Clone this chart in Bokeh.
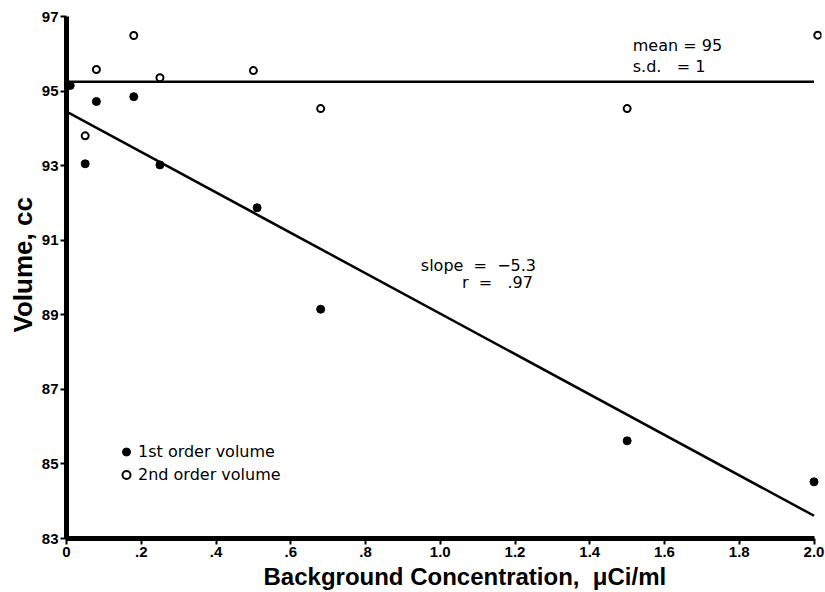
from bokeh.plotting import figure
from bokeh.models import (Range1d, FixedTicker, Label, Legend, LegendItem, Title)
from bokeh.embed import file_html
from bokeh.resources import INLINE

# ---- data ----
first_x = [0.01, 0.05, 0.08, 0.18, 0.25, 0.51, 0.68, 1.50, 2.00]
first_y = [95.15, 93.05, 94.72, 94.85, 93.02, 91.87, 89.15, 85.62, 84.52]

second_x = [0.05, 0.08, 0.18, 0.25, 0.50, 0.68, 1.50, 2.01]
second_y = [93.80, 95.58, 96.49, 95.36, 95.55, 94.53, 94.53, 96.50]

fit_x = [0.0, 2.0]
mean_level = 95.25
line_intercept = 94.45
line_slope = -5.42

x_ticks = [0, 0.2, 0.4, 0.6, 0.8, 1.0, 1.2, 1.4, 1.6, 1.8, 2.0]
x_tick_labels = ["0", ".2", ".4", ".6", ".8", "1.0", "1.2", "1.4", "1.6", "1.8", "2.0"]
y_ticks = [83, 85, 87, 89, 91, 93, 95, 97]
y_tick_labels = ["83", "85", "87", "89", "91", "93", "95", "97"]

FONT = "Liberation Sans"
TFONT = "DejaVu Sans"
NB = "\u00a0"

p = figure(width=825, height=592, x_range=Range1d(0, 2.02), y_range=Range1d(83, 97),
           output_backend="svg", toolbar_location=None,
           min_border_left=66, min_border_right=4, min_border_top=16, min_border_bottom=54)
p.outline_line_color = None
p.xgrid.visible = False
p.ygrid.visible = False
p.background_fill_color = "white"
p.border_fill_color = "white"

for ax in (p.xaxis[0], p.yaxis[0]):
    ax.axis_line_width = 5
    ax.axis_line_color = "black"
    ax.major_tick_out = 6
    ax.major_tick_in = 0
    ax.major_tick_line_width = 2
    ax.minor_tick_line_color = None
    ax.major_label_text_font = FONT
    ax.major_label_text_font_style = "bold"
    ax.major_label_text_font_size = "15px"
    ax.major_label_text_color = "black"

p.xaxis[0].ticker = FixedTicker(ticks=x_ticks)
p.xaxis[0].major_label_overrides = {t: l for t, l in zip(x_ticks, x_tick_labels)}
p.xaxis[0].bounds = (0, 2.0)
p.xaxis[0].major_label_standoff = 2
p.yaxis[0].ticker = FixedTicker(ticks=y_ticks)
p.yaxis[0].major_label_overrides = {t: l for t, l in zip(y_ticks, y_tick_labels)}
p.yaxis[0].bounds = (83, 97)
p.yaxis[0].major_label_standoff = 2

# fit lines
p.line(fit_x, [mean_level, mean_level], line_color="black", line_width=2.5)
p.line(fit_x, [line_intercept + line_slope * x for x in fit_x], line_color="black", line_width=2.5)

r1 = p.scatter(first_x, first_y, marker="circle", size=8, fill_color="black", line_color="black")
r2 = p.scatter(second_x, second_y, marker="circle", size=7, fill_color="white",
               line_color="black", line_width=2)

legend = Legend(items=[LegendItem(label="1st order volume", renderers=[r1]),
                       LegendItem(label="2nd order volume", renderers=[r2])],
                location=(50, 52), orientation="vertical")
legend.border_line_color = None
legend.background_fill_alpha = 0
legend.padding = 0
legend.spacing = 0
legend.margin = 0
legend.glyph_width = 20
legend.glyph_height = 23
legend.label_height = 23
legend.label_standoff = 2
legend.label_text_font = TFONT
legend.label_text_font_size = "16px"
legend.label_text_color = "black"
p.add_layout(legend)

def lab(x, y, text, align="left"):
    p.add_layout(Label(x=x, y=y, text=text, text_font=TFONT, text_font_size="16px",
                       text_color="black", text_align=align, text_baseline="middle"))

lab(1.515, 96.22, "mean" + NB + "=" + NB + "95")
lab(1.515, 95.66, "s.d." + NB * 3 + "=" + NB + "1")
lab(0.948, 90.32, "slope" + NB * 2 + "=" + NB * 2 + "\u22125.3")
lab(1.248, 89.87, "r" + NB * 2 + "=" + NB * 3 + ".97", align="right")

xt = Title(text="Background Concentration," + NB * 2 + "\u03bcCi/ml", align="left", offset=197,
           standoff=2, text_font=FONT, text_font_size="24px", text_font_style="bold",
           text_color="black")
p.add_layout(xt, "below")
yt = Title(text="Volume, cc", align="left", offset=206, standoff=2,
           text_font=FONT, text_font_size="26px", text_font_style="bold", text_color="black")
p.add_layout(yt, "left")

open("out.html", "w").write(file_html(p, INLINE))
